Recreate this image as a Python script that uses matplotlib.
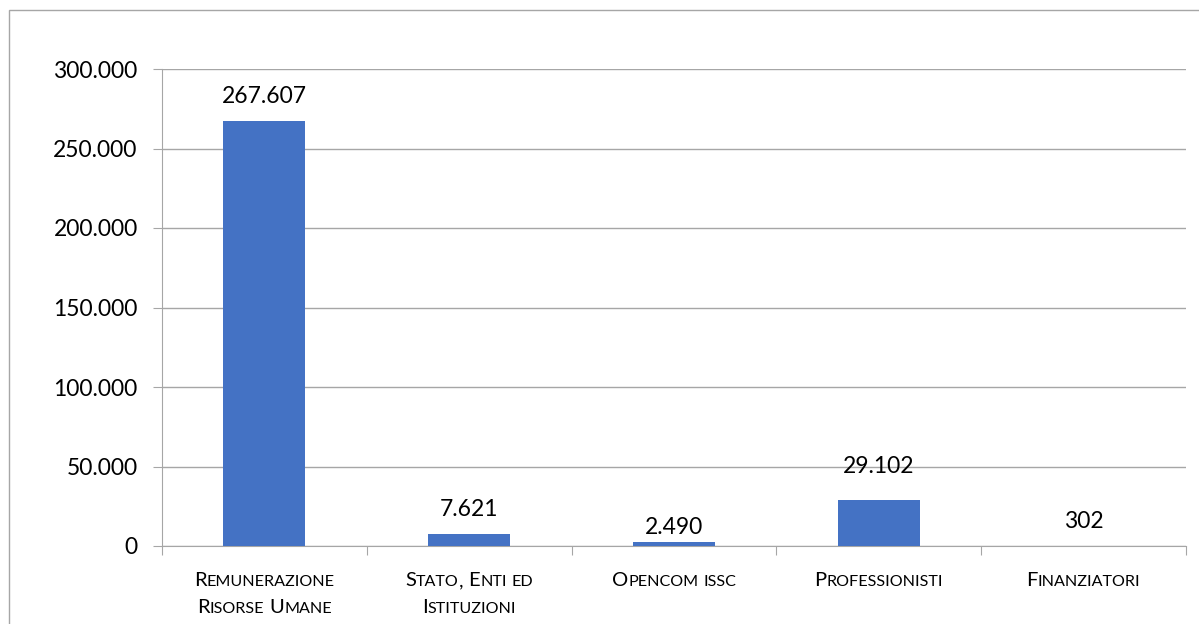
import matplotlib
matplotlib.use("Agg")
import matplotlib.pyplot as plt
from matplotlib.patches import Rectangle

categories = ["Remunerazione\nRisorse Umane", "Stato, Enti ed\nIstituzioni",
              "Opencom issc", "Professionisti", "Finanziatori"]
values = [267607, 7621, 2490, 29102, 302]
yticks = [0, 50000, 100000, 150000, 200000, 250000, 300000]
# labels moved by hand in the original (points)
label_nudge = [0, 0, -7, 6.5, 0]

plt.rcParams['font.family'] = ['Lato', 'DejaVu Sans']
grey = "#A6A6A6"
blue = "#4472C4"

def fmt(v):
    return f"{v:,}".replace(",", ".")

fig = plt.figure(figsize=(11.99, 6.24), dpi=100)
fig.patches.append(Rectangle((9/1199, -0.1), 1.2, 1 - 10/624 + 0.1, transform=fig.transFigure,
                             fill=False, edgecolor=grey, linewidth=1))
ax = fig.add_axes([162/1199, 1 - 546/624, (1186-162)/1199, (546-69)/624])

x = list(range(len(values)))
ax.bar(x, values, width=0.4, color=blue, zorder=3)
for xi, v, dy in zip(x, values, label_nudge):
    ax.annotate(fmt(v), (xi, v), xytext=(0, 10 + dy), textcoords="offset points",
                ha="center", va="bottom", fontsize=16.5, color="#000000", zorder=4)

ax.set_xlim(-0.5, 4.5)
ax.set_ylim(0, 300000)
ax.set_yticks(yticks)
ax.set_yticklabels([fmt(t) for t in yticks], fontsize=16.5)
ax.set_xticks([i - 0.5 for i in range(len(values) + 1)])
ax.set_xticklabels([])
ax.tick_params(axis="y", length=6.5, color=grey, pad=11)
ax.tick_params(axis="x", length=6.5, color=grey)
ax.grid(axis="y", color=grey, linewidth=1, zorder=0)
for s in ["top", "right"]:
    ax.spines[s].set_visible(False)
for s in ["left", "bottom"]:
    ax.spines[s].set_color(grey)

# small caps category labels
fig.canvas.draw()
r = fig.canvas.get_renderer()
big, small = 14.5, 11.6

def width_of(s, size):
    t = fig.text(0, 0, s, fontsize=size, transform=None)
    w = t.get_window_extent(r).width
    t.remove()
    return w

space = width_of("a a", big) - width_of("aa", big)

def runs_of(word):
    out = []
    for ch in word:
        sz = small if ch.islower() else big
        if out and out[-1][1] == sz:
            out[-1][0] += ch.upper()
        else:
            out.append([ch.upper(), sz])
    return out

for xi, lab in zip(x, categories):
    cx = ax.transData.transform((xi, 0))[0]
    for li, line in enumerate(lab.split("\n")):
        y = 624 - (586 + li * 27)
        pieces = []
        words = line.split(" ")
        for wi, w in enumerate(words):
            for s, sz in runs_of(w):
                pieces.append((s, sz, width_of(s, sz)))
            if wi < len(words) - 1:
                pieces.append((None, big, space))
        total = sum(p[2] for p in pieces)
        px = cx - total / 2
        for s, sz, w in pieces:
            if s is not None:
                fig.text(px, y, s, fontsize=sz, transform=None, va="baseline", ha="left")
            px += w

fig.savefig("out.png", dpi=100)
